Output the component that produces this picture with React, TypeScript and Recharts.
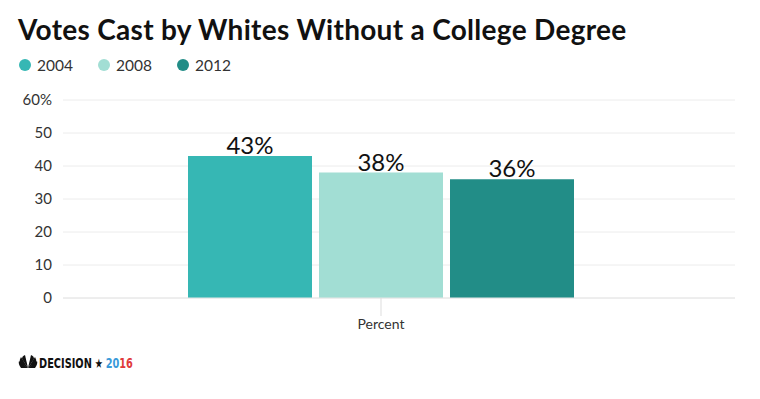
import React from "react";
import { BarChart, Bar, XAxis, YAxis, CartesianGrid, LabelList } from "recharts";

const categories = ["Percent"];
const series2004 = [43];
const series2008 = [38];
const series2012 = [36];
const seriesNames = ["2004", "2008", "2012"];
const seriesColors = ["#36b7b4", "#a2ded4", "#228d87"];
const yTicks = [0, 10, 20, 30, 40, 50, 60];

const data = categories.map((c, i) => ({
  name: c,
  s2004: series2004[i],
  s2008: series2008[i],
  s2012: series2012[i],
}));

const FONT = "Lato, 'Open Sans', sans-serif";

export default function App() {
  const keys = ["s2004", "s2008", "s2012"];
  return (
    <div style={{ position: "absolute", left: 0, top: 0, width: 760, height: 399, background: "#fff", fontFamily: FONT }}>
      <div style={{ position: "absolute", left: 18, top: 12, fontSize: 28, fontWeight: 700, color: "#111", whiteSpace: "nowrap", letterSpacing: 0.3 }}>
        Votes Cast by Whites Without a College Degree
      </div>
      <div style={{ position: "absolute", left: 19, top: 56, display: "flex", fontSize: 15.5, color: "#333" }}>
        {seriesNames.map((n, i) => (
          <div key={n} style={{ display: "flex", alignItems: "center", marginRight: 25 }}>
            <span style={{ width: 12, height: 12, borderRadius: 6, background: seriesColors[i], display: "inline-block", marginRight: 6 }} />
            <span>{n}</span>
          </div>
        ))}
      </div>
      <BarChart
        width={760}
        height={399}
        data={data}
        margin={{ top: 100, right: 25, bottom: 71, left: 0 }}
        barGap={7}
        style={{ position: "absolute", left: 0, top: 0 }}
      >
        <CartesianGrid horizontal vertical={false} stroke="#ececec" />
        <YAxis
          width={63}
          domain={[0, 60]}
          ticks={yTicks}
          tickFormatter={(v: number) => (v === 60 ? "60%" : String(v))}
          axisLine={false}
          tickLine={false}
          tickSize={0}
          tickMargin={11}
          tick={{ fontSize: 15, fill: "#333", fontFamily: FONT }}
        />
        <XAxis
          dataKey="name"
          height={30}
          padding={{ left: 0, right: 36 }}
          axisLine={{ stroke: "#e6e6e6" }}
          tickLine={{ stroke: "#dddddd" }}
          tickSize={18}
          tickMargin={3}
          tick={{ fontSize: 14, fill: "#333", fontFamily: FONT }}
        />
        {keys.map((k, i) => (
          <Bar key={k} dataKey={k} name={seriesNames[i]} fill={seriesColors[i]} barSize={124} isAnimationActive={false}>
            <LabelList dataKey={k} position="top" offset={2} formatter={(v: number) => `${v}%`} style={{ fontSize: 24, fill: "#111", fontFamily: FONT }} />
          </Bar>
        ))}
      </BarChart>
      <svg width="140" height="20" style={{ position: "absolute", left: 18, top: 353 }}>
        <g fill="#111">
          <path d="M10 15 L1 8 Q0 11 3 15 Z" />
          <path d="M10 15 L3 4 Q1 7 2 10 Z" />
          <path d="M10 15 L7 2 Q4 3 4 6 Z" />
          <path d="M10 15 L13 2 Q16 3 16 6 Z" />
          <path d="M10 15 L17 4 Q19 7 18 10 Z" />
          <path d="M10 15 L19 8 Q20 11 17 15 Z" />
        </g>
        <g transform="translate(21,0) scale(0.7,1)">
          <text x={0} y={15} fontSize={14} fontWeight={700} fill="#111" fontFamily="'DejaVu Sans', sans-serif">
            <tspan>DECISION</tspan>
            <tspan dx={4} fontSize={13}>★</tspan>
            <tspan dx={4} fill="#3a9ad9">20</tspan>
            <tspan fill="#e03a3a">16</tspan>
          </text>
        </g>
      </svg>
    </div>
  );
}
